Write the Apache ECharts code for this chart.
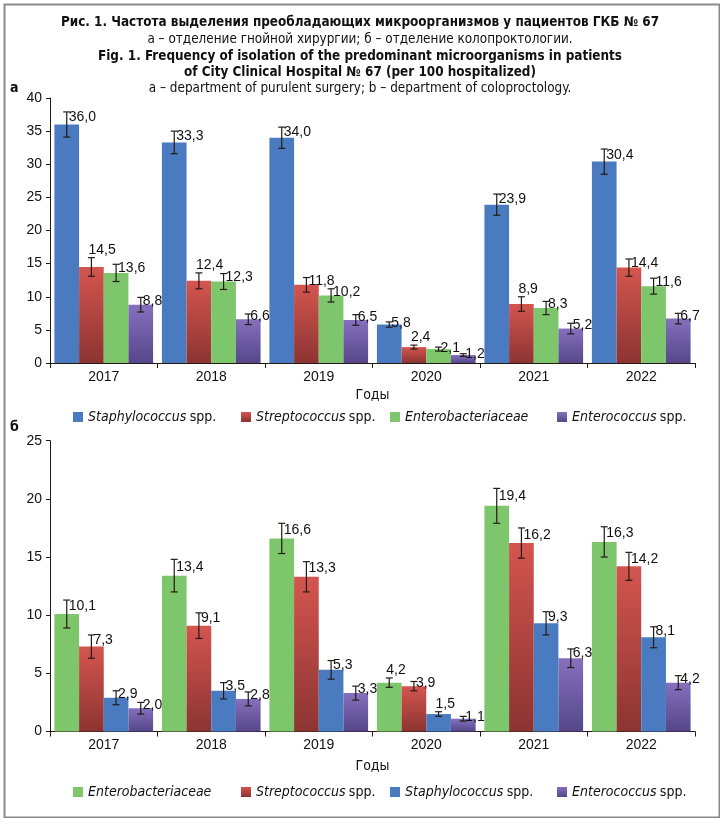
<!DOCTYPE html>
<html>
<head>
<meta charset="utf-8">
<script src="https://cdn.jsdelivr.net/npm/echarts@6/dist/echarts.min.js"></script>
<style>
  html, body { margin: 0; padding: 0; background: #fff; }
  #chart { width: 720px; height: 818px; }
</style>
</head>
<body>
<div id="chart"></div>
<script>
// категории
const years = ['2017', '2018', '2019', '2020', '2021', '2022'];

// а – отделение гнойной хирургии
const staphA = [36.0, 33.3, 34.0, 5.8, 23.9, 30.4];
const strepA = [14.5, 12.4, 11.8, 2.4, 8.9, 14.4];
const enterobA = [13.6, 12.3, 10.2, 2.1, 8.3, 11.6];
const enterocA = [8.8, 6.6, 6.5, 1.2, 5.2, 6.7];
// погрешности (±)
const staphAErr = [1.9, 1.7, 1.6, 0.4, 1.6, 1.9];
const strepAErr = [1.4, 1.2, 1.1, 0.3, 1.1, 1.3];
const enterobAErr = [1.3, 1.2, 1.0, 0.3, 1.0, 1.2];
const enterocAErr = [1.1, 0.8, 0.8, 0.2, 0.8, 0.8];

// б – отделение колопроктологии
const enterobB = [10.1, 13.4, 16.6, 4.2, 19.4, 16.3];
const strepB = [7.3, 9.1, 13.3, 3.9, 16.2, 14.2];
const staphB = [2.9, 3.5, 5.3, 1.5, 9.3, 8.1];
const enterocB = [2.0, 2.8, 3.3, 1.1, 6.3, 4.2];
const enterobBErr = [1.2, 1.4, 1.3, 0.4, 1.5, 1.3];
const strepBErr = [1.0, 1.1, 1.3, 0.4, 1.3, 1.2];
const staphBErr = [0.6, 0.7, 0.8, 0.2, 1.0, 0.9];
const enterocBErr = [0.5, 0.6, 0.6, 0.2, 0.8, 0.6];

const yTicksA = { min: 0, max: 40, interval: 5 };
const yTicksB = { min: 0, max: 25, interval: 5 };

const NARROW = '"Liberation Sans Narrow", "DejaVu Sans Condensed", "Liberation Sans", sans-serif';
const SANS = '"Liberation Sans", Arial, sans-serif';
const INK = '#231a14';
const GAP = 0.082;

const colBlue = '#4a7bc0';
const colGreen = '#7ec66b';
const colRed = new echarts.graphic.LinearGradient(0, 0, 0, 1, [
    { offset: 0, color: '#d4554f' },
    { offset: 1, color: '#8c3432' }
]);
const colPurple = new echarts.graphic.LinearGradient(0, 0, 0, 1, [
    { offset: 0, color: '#8570bd' },
    { offset: 1, color: '#554789' }
]);

const fmt = v => v.toFixed(1).replace('.', ',');

// усы погрешности + подпись значения
// next / nextErr – соседний столбец справа: если подпись на него налезает, ставим её над усом
function errRender(pos, next, nextErr) {
    return function (params, api) {
        const i = api.value(0), v = api.value(1), e = api.value(2);
        const band = api.size([1, 0])[0];
        const barW = band * (1 - GAP) / 4;
        const base = api.coord([i, v]);
        const cx = base[0] + (pos - 1.5) * barW;
        const top = api.coord([i, v + e])[1];
        const bot = api.coord([i, v - e])[1];
        const ly = api.coord([i, v + e * 0.55])[1];
        let above = false;
        if (next) {
            const nTop = api.coord([i, next[i] + nextErr[i]])[1];
            above = nTop < ly + 5;
        }
        const st = { stroke: INK, lineWidth: 1.2 };
        const label = above
            ? { x: cx - 3, y: top - 1, verticalAlign: 'bottom' }
            : { x: cx + 2, y: ly, verticalAlign: 'middle' };
        return {
            type: 'group',
            children: [
                { type: 'line', shape: { x1: cx, y1: top, x2: cx, y2: bot }, style: st },
                { type: 'line', shape: { x1: cx - 3.5, y1: top, x2: cx + 3.5, y2: top }, style: st },
                { type: 'line', shape: { x1: cx - 3.5, y1: bot, x2: cx + 3.5, y2: bot }, style: st },
                {
                    type: 'text', z2: 10,
                    style: {
                        x: label.x, y: label.y, text: fmt(v), fill: '#111',
                        font: '14px ' + SANS, verticalAlign: label.verticalAlign, align: 'left'
                    }
                }
            ]
        };
    };
}

const legendRich = {
    i: { fontStyle: 'italic', fontFamily: NARROW, fontSize: 14, color: '#111' },
    n: { fontFamily: NARROW, fontSize: 14, color: '#111' }
};
function legendFmt(name) {
    const p = name.split(' ');
    return p.length > 1 ? '{i|' + p[0] + '} {n|' + p.slice(1).join(' ') + '}' : '{i|' + name + '}';
}

const grids = [
    { left: 50, right: 25, top: 98, height: 265 },
    { left: 50, right: 25, top: 440.7, height: 290.8 }
];

function xAxis(gi) {
    return {
        type: 'category', gridIndex: gi, data: years,
        name: 'Годы', nameLocation: 'middle', nameGap: gi === 0 ? 25 : 28,
        nameTextStyle: { fontFamily: NARROW, fontSize: 14, color: '#111' },
        axisLine: { lineStyle: { color: INK, width: 1 } },
        axisTick: { show: true, length: 5, lineStyle: { color: INK } },
        axisLabel: { fontFamily: SANS, fontSize: 14, color: '#111', margin: 7 }
    };
}
function yAxis(gi, t) {
    return {
        type: 'value', gridIndex: gi, min: t.min, max: t.max, interval: t.interval,
        axisLine: { show: true, lineStyle: { color: INK, width: 1 } },
        axisTick: { show: true, length: 4, lineStyle: { color: INK } },
        splitLine: { show: false },
        axisLabel: { fontFamily: SANS, fontSize: 14, color: '#111', margin: 8 }
    };
}

function bar(name, data, color, gi) {
    return {
        name: name, type: 'bar', xAxisIndex: gi, yAxisIndex: gi, data: data,
        itemStyle: { color: color },
        barGap: '0%', barCategoryGap: (GAP * 100) + '%',
        silent: true, animation: false
    };
}
function err(vals, errs, pos, gi, next, nextErr) {
    return {
        type: 'custom', xAxisIndex: gi, yAxisIndex: gi, z: 5,
        renderItem: errRender(pos, next, nextErr),
        data: vals.map((v, i) => [i, v, errs[i]]),
        silent: true, animation: false
    };
}

const namesA = ['Staphylococcus spp.', 'Streptococcus spp.', 'Enterobacteriaceae', 'Enterococcus spp.'];
const namesB = ['Enterobacteriaceae ', 'Streptococcus spp. ', 'Staphylococcus spp. ', 'Enterococcus spp. '];
const legendX = [68, 236, 385, 552];

function legends(names, top) {
    return names.map((n, k) => ({
        data: [n], left: legendX[k], top: top,
        icon: 'rect', itemWidth: 10, itemHeight: 10, itemGap: 4,
        formatter: n2 => legendFmt(n2.trim()),
        textStyle: { rich: legendRich, padding: [0, 0, 0, 0] },
        selectedMode: false
    }));
}

const TITLE = '13.4px ' + NARROW;
const TITLE_B = 'bold 13.4px ' + NARROW;

const myChart = echarts.init(document.getElementById('chart'), null, { renderer: 'canvas' });
const option = {
    backgroundColor: '#fff',
    animation: false,
    grid: grids,
    xAxis: [xAxis(0), xAxis(1)],
    yAxis: [yAxis(0, yTicksA), yAxis(1, yTicksB)],
    legend: legends(namesA, 405).concat(legends(namesB, 780)),
    series: [
        bar(namesA[0], staphA, colBlue, 0),
        bar(namesA[1], strepA, colRed, 0),
        bar(namesA[2], enterobA, colGreen, 0),
        bar(namesA[3], enterocA, colPurple, 0),
        err(staphA, staphAErr, 0, 0, strepA, strepAErr),
        err(strepA, strepAErr, 1, 0, enterobA, enterobAErr),
        err(enterobA, enterobAErr, 2, 0, enterocA, enterocAErr),
        err(enterocA, enterocAErr, 3, 0),

        bar(namesB[0], enterobB, colGreen, 1),
        bar(namesB[1], strepB, colRed, 1),
        bar(namesB[2], staphB, colBlue, 1),
        bar(namesB[3], enterocB, colPurple, 1),
        err(enterobB, enterobBErr, 0, 1, strepB, strepBErr),
        err(strepB, strepBErr, 1, 1, staphB, staphBErr),
        err(staphB, staphBErr, 2, 1, enterocB, enterocBErr),
        err(enterocB, enterocBErr, 3, 1)
    ],
    graphic: [
        {
            type: 'rect', left: 2, top: 2, silent: true,
            shape: { width: 715, height: 813 },
            style: { fill: 'none', stroke: '#8a8a8a', lineWidth: 2 }
        },
        { type: 'text', x: 360, y: 23, style: { text: 'Рис. 1. Частота выделения преобладающих микроорганизмов у пациентов ГКБ № 67', font: TITLE_B, fill: '#111', align: 'center', verticalAlign: 'middle' } },
        { type: 'text', x: 360, y: 40, style: { text: 'а – отделение гнойной хирургии; б – отделение колопроктологии.', font: TITLE, fill: '#111', align: 'center', verticalAlign: 'middle' } },
        { type: 'text', x: 360, y: 57, style: { text: 'Fig. 1. Frequency of isolation of the predominant microorganisms in patients', font: TITLE_B, fill: '#111', align: 'center', verticalAlign: 'middle' } },
        { type: 'text', x: 360, y: 73, style: { text: 'of City Clinical Hospital № 67 (per 100 hospitalized)', font: TITLE_B, fill: '#111', align: 'center', verticalAlign: 'middle' } },
        { type: 'text', x: 360, y: 89, style: { text: 'a – department of purulent surgery; b – department of coloproctology.', font: TITLE, fill: '#111', align: 'center', verticalAlign: 'middle' } },
        { type: 'text', x: 10, y: 88, style: { text: 'а', font: 'bold 14px ' + NARROW, fill: '#111', verticalAlign: 'middle' } },
        { type: 'text', x: 10, y: 427, style: { text: 'б', font: 'bold 14px ' + NARROW, fill: '#111', verticalAlign: 'middle' } }
    ]
};
myChart.setOption(option);
window.addEventListener('resize', () => {
    myChart.resize();
});
</script>
</body>
</html>
